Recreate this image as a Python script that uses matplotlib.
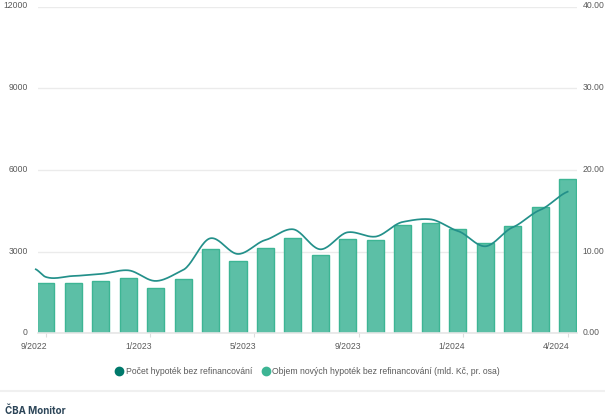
import matplotlib
matplotlib.use('Agg')
import matplotlib.pyplot as plt
from matplotlib.lines import Line2D
from matplotlib.transforms import ScaledTranslation
import numpy as np

plt.rcParams['font.family'] = ['Liberation Sans', 'DejaVu Sans']

W, H = 605, 418

# objem novych hypotek (mld. Kc), prava osa
volume = [6.12, 6.2, 6.4, 6.73, 5.5, 6.65, 10.37, 8.86, 10.5, 11.7,
          9.6, 11.55, 11.43, 13.27, 13.47, 12.8, 11.0, 13.1, 15.5, 18.86]
# pocet hypotek, leva osa (prvni bod lezi kousek pred prvnim sloupcem)
count_pos = [-0.36, 0, 1, 2, 3, 4, 5, 6, 7, 8, 9, 10, 11, 12, 13, 14, 15, 16, 17, 18, 19]
count = [2350, 2070, 2105, 2180, 2313, 1922, 2325, 3490, 2913, 3427, 3820,
         3085, 3710, 3550, 4090, 4186, 3758, 3195, 3892, 4530, 5200]
month_labels = ['9/2022', '1/2023', '5/2023', '9/2023', '1/2024', '4/2024']
left_ticks = [0, 3000, 6000, 9000, 12000]
right_ticks = [0, 10, 20, 30, 40]

LINE_COL = '#23908a'
LEGEND_LINE = '#00796b'
BAR_FACE = '#5cbfa6'
BAR_EDGE = '#3db594'
GRID = '#ebebeb'
TEXT = '#5a5a5a'
TICK_SIZE = 6.2


def smooth(x, y, n=24, tension=0.6):
    # hermite s kratsimi tecnami, at cara dela ty "schodky" jako v originale
    x = np.array(x, dtype=float)
    y = np.array(y, dtype=float)
    dy = np.gradient(y, x) * tension
    xs, ys = [], []
    for i in range(len(x) - 1):
        h = x[i + 1] - x[i]
        t = np.linspace(0, 1, n)
        a = 2 * t**3 - 3 * t**2 + 1
        b = t**3 - 2 * t**2 + t
        c = -2 * t**3 + 3 * t**2
        d = t**3 - t**2
        xs.append(x[i] + t * h)
        ys.append(a * y[i] + b * h * dy[i] + c * y[i + 1] + d * h * dy[i + 1])
    return np.concatenate(xs), np.concatenate(ys)


fig = plt.figure(figsize=(W / 100, H / 100), dpi=100, facecolor='white')
left, right, top, bottom = 37.5, 577, 6.5, 333.3
ax = fig.add_axes([left / W, 1 - bottom / H, (right - left) / W, (bottom - top) / H])
ax2 = ax.twinx()

x = np.arange(len(volume))
ax2.bar(x, volume, width=0.62, color=BAR_FACE, edgecolor=BAR_EDGE, linewidth=1)
ax2.set_ylim(0, 40)
ax2.set_yticks(right_ticks)
ax2.set_yticklabels(['%.2f' % v for v in right_ticks])
ax2.grid(axis='y', color=GRID, linewidth=1)
ax2.set_axisbelow(True)
ax2.tick_params(axis='y', length=0, pad=4, labelsize=TICK_SIZE, labelcolor=TEXT)

ax.set_zorder(ax2.get_zorder() + 1)
ax.patch.set_visible(False)
sx, sy = smooth(count_pos, count)
ax.plot(sx, sy, color=LINE_COL, linewidth=1.25, clip_on=False)
ax.set_ylim(0, 12000)
ax.set_xlim((left - 45.7) / 27.47, (right - 45.7) / 27.47)
ax.set_yticks(left_ticks)
ax.tick_params(axis='y', length=0, pad=7, labelsize=TICK_SIZE, labelcolor=TEXT)

ax.set_xticks(np.linspace(0, 19, len(month_labels)))
ax.set_xticklabels(month_labels, ha='right')
ax.tick_params(axis='x', length=3, width=0.8, color='#dddddd', pad=3.2, labelsize=TICK_SIZE, labelcolor=TEXT)

# popisky os sedi v originale o kousek vys nez mrizka
shift = ScaledTranslation(0, 1.5 / 100, fig.dpi_scale_trans)
for lab in ax.get_yticklabels() + ax2.get_yticklabels():
    lab.set_transform(lab.get_transform() + shift)
shift_x = ScaledTranslation(2 / 100, 0, fig.dpi_scale_trans)
for lab in ax.get_xticklabels():
    lab.set_transform(lab.get_transform() + shift_x)

for a in (ax, ax2):
    for s in a.spines.values():
        s.set_visible(False)
ax.spines['bottom'].set_visible(True)
ax.spines['bottom'].set_color('#e6e6e6')
ax.spines['bottom'].set_linewidth(1.2)

handles = [
    Line2D([], [], linestyle='none', marker='o', markersize=6, color=LEGEND_LINE,
           label='Počet hypoték bez refinancování'),
    Line2D([], [], linestyle='none', marker='o', markersize=6, color=BAR_EDGE,
           label='Objem nových hypoték bez refinancování (mld. Kč, pr. osa)'),
]
fig.legend(handles=handles, loc='center', bbox_to_anchor=(307 / W, 1 - 372 / H), ncol=2,
           frameon=False, fontsize=6.2, labelcolor=TEXT, handletextpad=0.15,
           columnspacing=1.0, handlelength=1.2, borderpad=0)

fig.add_artist(Line2D([0, 1], [1 - 390.7 / H] * 2, color='#f0f0f0', linewidth=1.5))
fig.text(5 / W, 1 - 410.5 / H, 'ČBA Monitor', family=['Inter', 'DejaVu Sans'], fontsize=7,
         fontweight='bold', color='#2c4558', va='center')

fig.savefig('out.png', dpi=100)
